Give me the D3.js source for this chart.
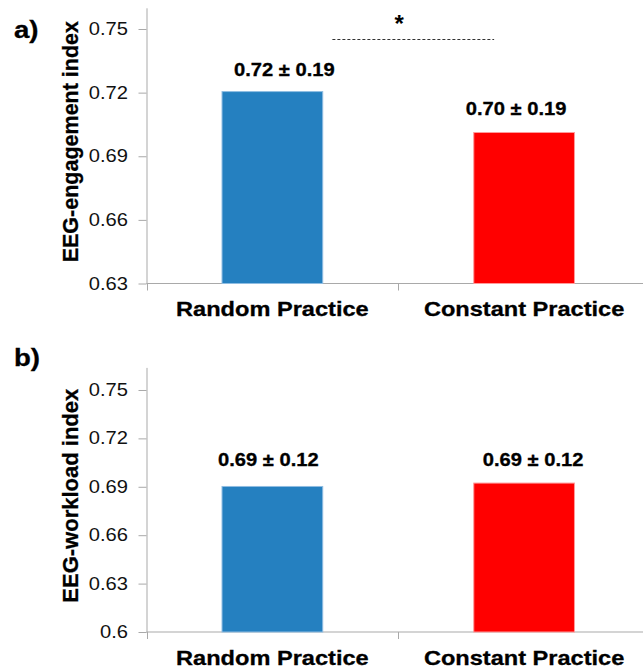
<!DOCTYPE html>
<html>
<head>
<meta charset="utf-8">
<script src="https://cdn.jsdelivr.net/npm/d3@7"></script>
<style>
  body { margin: 0; background: #fff; }
  svg { display: block; font-family: "Liberation Sans", Arial, sans-serif; }
  .heavy { stroke: #000; stroke-width: 0.3px; }
</style>
</head>
<body>
<svg id="chart" width="643" height="669"></svg>
<script>
// data
var categories = ["Random Practice", "Constant Practice"];
var engagementMeans = [0.7205, 0.7012];
var engagementLabels = ["0.72 \u00b1 0.19", "0.70 \u00b1 0.19"];
var engagementTicks = [0.63, 0.66, 0.69, 0.72, 0.75];
var workloadMeans = [0.6902, 0.6923];
var workloadLabels = ["0.69 \u00b1 0.12", "0.69 \u00b1 0.12"];
var workloadTicks = [0.6, 0.63, 0.66, 0.69, 0.72, 0.75];
var barColors = ["#2580c0", "#ff0000"];
var barEdges = ["#8fbde2", "#ff9a9a"];

// the source picture is stretched sideways a little
var SX = 1.15;
var axisColor = "#a9a9a9";

var svg = d3.select("#chart");

function stretch(sel) {
    sel.each(function () {
        var l = this.getComputedTextLength();
        d3.select(this).attr("textLength", l * SX).attr("lengthAdjust", "spacingAndGlyphs");
    });
}

function drawPanel(p) {
    var g = svg.append("g");

    var y = d3.scaleLinear().domain(p.domain).range(p.yRange);
    var x = d3.scaleBand().domain(categories).range([146.5, 650]).padding(0);
    var bw = x.bandwidth();

    // y axis
    var yAxis = g.append("g")
        .attr("transform", "translate(146.5,0)")
        .call(d3.axisLeft(y).tickValues(p.ticks).tickSize(8).tickSizeOuter(0).tickPadding(10.5)
            .tickFormat(function (d) { return String(d); }));
    yAxis.select(".domain").attr("stroke", axisColor);
    yAxis.selectAll(".tick line").attr("stroke", axisColor);
    yAxis.selectAll(".tick text")
        .attr("fill", "#111")
        .style("font-size", "17.5px")
        .style("font-family", "'Liberation Sans', Arial, sans-serif")
        .call(stretch);

    // x axis: baseline and ticks at band edges
    var base = y(p.domain[0]);
    g.append("line")
        .attr("x1", 146.5).attr("x2", 650)
        .attr("y1", base).attr("y2", base)
        .attr("stroke", axisColor);
    g.selectAll(".xtick")
        .data(d3.range(categories.length + 1))
        .enter().append("line")
        .attr("class", "xtick")
        .attr("x1", function (i) { return Math.round(146.5 + i * x.step()) + 0.5; })
        .attr("x2", function (i) { return Math.round(146.5 + i * x.step()) + 0.5; })
        .attr("y1", base).attr("y2", base + 7)
        .attr("stroke", axisColor);

    // bars
    g.selectAll(".bar")
        .data(p.means)
        .enter().append("rect")
        .attr("class", "bar")
        .attr("x", function (d, i) { return x(categories[i]) + bw * 0.3; })
        .attr("width", bw * 0.4)
        .attr("y", function (d) { return y(d); })
        .attr("height", function (d) { return base - y(d); })
        .attr("fill", function (d, i) { return barColors[i]; })
        .attr("stroke", function (d, i) { return barEdges[i]; })
        .attr("stroke-width", 1);

    // mean ± sd labels
    g.selectAll(".val")
        .data(p.means)
        .enter().append("text")
        .attr("class", "val heavy")
        .attr("x", function (d, i) { return x(categories[i]) + bw / 2 + p.labelOff[i][0]; })
        .attr("y", function (d, i) { return y(d) + p.labelOff[i][1]; })
        .attr("text-anchor", "middle")
        .style("font-size", "17.5px")
        .style("font-weight", "bold")
        .text(function (d, i) { return p.labels[i]; })
        .call(stretch);

    // category labels
    g.selectAll(".cat")
        .data(categories)
        .enter().append("text")
        .attr("class", "cat heavy")
        .attr("x", function (d) { return x(d) + bw / 2; })
        .attr("y", base + 32.5)
        .attr("text-anchor", "middle")
        .style("font-size", "20.5px")
        .style("font-weight", "bold")
        .text(function (d) { return d; })
        .call(stretch);

    // y title
    var cy = (p.yRange[0] + p.yRange[1]) / 2 - 4;
    g.append("text")
        .attr("class", "heavy")
        .attr("transform", "translate(78," + cy + ") rotate(-90)")
        .attr("text-anchor", "middle")
        .style("font-size", p.titleSize + "px")
        .style("font-weight", "bold")
        .text(p.title);

    // panel letter
    g.append("text")
        .attr("class", "heavy")
        .attr("x", 14)
        .attr("y", p.letterY)
        .style("font-size", "24px")
        .style("font-weight", "bold")
        .text(p.letter)
        .call(stretch);

    return {x: x, y: y, g: g};
}

var a = drawPanel({
    domain: [0.63, 0.76], yRange: [283.5, 7.8],
    ticks: engagementTicks, means: engagementMeans, labels: engagementLabels,
    labelOff: [[12, -15.5], [-8, -17.5]],
    title: "EEG-engagement index", titleSize: 21.5,
    letter: "a)", letterY: 38
});

// significance marker between the two groups
var bw = a.x.bandwidth();
var c0 = a.x(categories[0]) + bw / 2, c1 = a.x(categories[1]) + bw / 2;
a.g.append("line")
    .attr("x1", c0 + 60).attr("x2", c1 - 30)
    .attr("y1", 39.5).attr("y2", 39.5)
    .attr("stroke", "#333")
    .attr("stroke-dasharray", "3,2");
a.g.append("text")
    .attr("x", (c0 + 60 + c1 - 30) / 2 - 14)
    .attr("y", 32)
    .attr("text-anchor", "middle")
    .style("font-size", "24px")
    .style("font-weight", "bold")
    .text("*");

drawPanel({
    domain: [0.6, 0.764], yRange: [632, 367.4],
    ticks: workloadTicks, means: workloadMeans, labels: workloadLabels,
    labelOff: [[-4, -20.5], [9, -17]],
    title: "EEG-workload index", titleSize: 22,
    letter: "b)", letterY: 366
});
</script>
</body>
</html>
